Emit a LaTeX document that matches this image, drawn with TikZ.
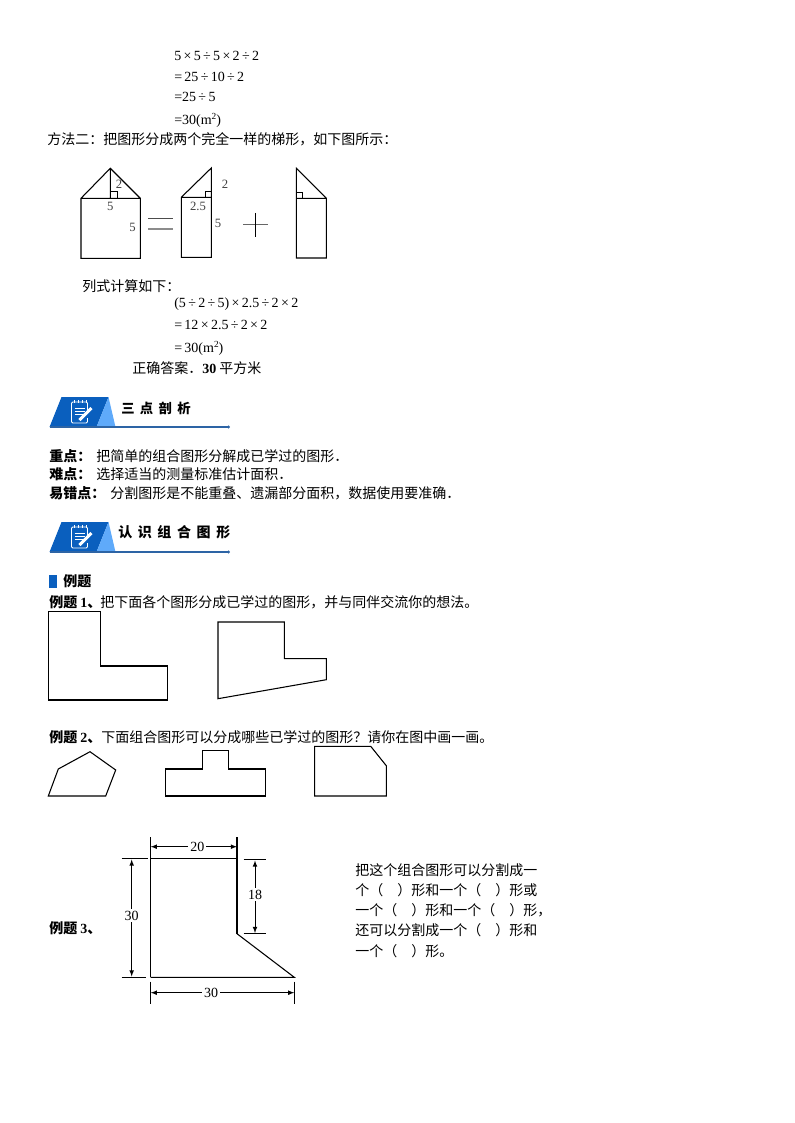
\documentclass[tikz,border=0pt]{standalone}
\usepackage{fontspec}
\setmainfont{Noto Sans CJK SC}
\newfontfamily\numfont{Liberation Serif}
\newfontfamily\bannerfont[LetterSpace=40]{Noto Sans CJK SC}
\definecolor{bannerblue}{RGB}{10,95,190}
\definecolor{bannerlight}{RGB}{95,170,250}
\definecolor{bannerline}{RGB}{45,100,165}
\tikzset{
  txt/.style={anchor=west,inner sep=0pt,font=\fontsize{10.5}{12}\selectfont},
  bold/.style={txt,font=\fontsize{10.5}{12}\selectfont\bfseries},
  num/.style={txt,font=\fontsize{10.5}{12}\selectfont\numfont},
  dimlab/.style={inner sep=1.5pt,fill=white,font=\fontsize{10.5}{12}\selectfont\numfont},
  lab/.style={inner sep=0pt,text=black!75,font=\fontsize{9.5}{12}\selectfont\numfont},
  fig/.style={line width=.8pt,line join=miter},
  dimarrow/.style={latex-latex,line width=.6pt},
  notebanner/.pic={
    \fill[bannerblue] (0,0)--(12,-30)--(59,-30)--(47,0)--cycle;
    \fill[bannerlight] (59,-30)--(66,0)--(47,0)--cycle;
    \draw[bannerline,line width=1pt] (0,0)--(179,0);
    \fill[bannerline] (179,0) circle (1.6);
    \draw[white,line width=.7pt,rounded corners=1pt] (38,-14)--(38,-25)--(22,-25)--(22,-4)--(38,-4)--(38,-9);
    \foreach \ix in {25,29,33,37} \draw[white,line width=.6pt] (\ix,-27)--(\ix,-24);
    \foreach \iy in {-19,-16,-13} \draw[white,line width=.7pt] (25,\iy)--(35,\iy);
    \draw[white,line width=2.2pt] (30,-7)--(42,-19);
  }
}
\begin{document}
\begin{tikzpicture}[x=.75pt,y=-.75pt]
\useasboundingbox (0,0) rectangle (794,1123);
% first sums
\node[num] (a1) at (174,56) {5\,×\,5\,÷\,5\,×\,2\,÷\,2};
\node[num] (a2) at (174,77) {=\,25\,÷\,10\,÷\,2};
\node[num] (a3) at (174,97) {=25\,÷\,5};
\node[num] (a4) at (174,120) {=30(m\raisebox{.8ex}{\fontsize{7}{8}\selectfont 2})};
\node[txt] (m2) at (47,139) {方法二：把图形分成两个完全一样的梯形，如下图所示：};
% house = piece + piece
\coordinate (sa) at (81,198.3);
\coordinate (sb) at (140.3,198.3);
\coordinate (sc) at (140.3,258.3);
\coordinate (sd) at (81,258.3);
\coordinate (se) at (110.3,168.3);
\coordinate (sf) at (110.3,198.3);
\draw[fig] (sa)--(sb)--(sc)--(sd)--cycle (sa)--(se)--(sb) (se)--(sf);
\draw[fig,line width=.5pt] (110.3,191.5)-|(117,198.3);
\node[lab] (l1) at (119,184) {2};
\node[lab] (l2) at (110.3,206) {5};
\node[lab] (l3) at (132.5,227) {5};
\draw[fig,line width=1pt,black!70] (148,218.3)--(172.7,218.3);
\draw[fig,line width=1pt,black!45] (148,229)--(172.7,229);
\coordinate (ma) at (181.3,197.3);
\coordinate (mb) at (211.3,197.3);
\coordinate (mc) at (211.3,257.3);
\coordinate (md) at (181.3,257.3);
\coordinate (me) at (211.3,168);
\draw[fig] (ma)--(mb)--(mc)--(md)--cycle (ma)--(me)--(mb);
\draw[fig,line width=.5pt] (205,197.3)|-(211.3,191);
\node[lab] (l4) at (225,184.5) {2};
\node[lab] (l5) at (198,206) {2.5};
\node[lab] (l6) at (218,223) {5};
\draw[fig,line width=1pt,black!60] (243,224.7)--(267.6,224.7);
\draw[fig] (255.5,213)--(255.5,237);
\coordinate (ra) at (296.3,198.3);
\coordinate (rb) at (326.3,198.3);
\coordinate (rc) at (326.3,258);
\coordinate (rd) at (296.3,258);
\coordinate (re) at (296.3,168.3);
\draw[fig] (ra)--(rb)--(rc)--(rd)--cycle (ra)--(re)--(rb);
\draw[fig,line width=.5pt] (296.3,192)-|(302.5,198.3);
% second sums
\node[txt] (b0) at (82,286) {列式计算如下：};
\node[num] (b1) at (174,304) {(5\,÷\,2\,÷\,5)\,×\,2.5\,÷\,2\,×\,2};
\node[num] (b2) at (174,325) {=\,12\,×\,2.5\,÷\,2\,×\,2};
\node[num] (b3) at (174,348) {=\,30(m\raisebox{.8ex}{\fontsize{7}{8}\selectfont 2})};
\node[txt] (b4) at (132,368) {正确答案．{\numfont\bfseries 30} 平方米};
% banners
\pic at (49.5,427) {notebanner};
\node[txt,font=\fontsize{10}{12}\selectfont\bannerfont\bfseries] (h1) at (121,408) {三点剖析};
\pic at (49.5,552) {notebanner};
\node[txt,font=\fontsize{10.5}{12}\selectfont\bannerfont\bfseries] (h2) at (118,532) {认识组合图形};
\node[bold] (k1) at (49,456) {重点：};
\node[txt] (k1t) at (96,456) {把简单的组合图形分解成已学过的图形．};
\node[bold] (k2) at (49,474) {难点：};
\node[txt] (k2t) at (96,474) {选择适当的测量标准估计面积．};
\node[bold] (k3) at (49,493) {易错点：};
\node[txt] (k3t) at (110,493) {分割图形是不能重叠、遗漏部分面积，数据使用要准确．};
% examples
\fill[bannerblue] (49.3,575) rectangle (56.5,588);
\node[bold] (e0) at (63,581) {例题};
\node[bold] (e1) at (49,602) {例题 {\numfont 1}、};
\node[txt] (e1t) at (100,602) {把下面各个图形分成已学过的图形，并与同伴交流你的想法。};
\draw[fig] (48.5,611.7)--(100.7,611.7)--(100.7,666)--(167.3,666)--(167.3,700)--(48.5,700)--cycle;
\draw[fig] (218,622)--(284.3,622)--(284.3,658.7)--(326.3,658.7)--(326.3,679.7)--(218,698.7)--cycle;
\node[bold] (e2) at (49,737) {例题 {\numfont 2}、};
\node[txt] (e2t) at (101,737) {下面组合图形可以分成哪些已学过的图形？请你在图中画一画。};
\draw[fig] (48.3,796)--(58.3,769)--(90,751.7)--(115.7,770)--(105.7,796)--cycle;
\draw[fig] (165.3,796)--(165.3,769)--(202.3,769)--(202.3,750.3)--(228.3,750.3)--(228.3,769)--(265.3,769)--(265.3,796)--cycle;
\draw[fig] (314.7,746.3)--(370.7,746.3)--(386.3,765.7)--(386.3,796)--(314.7,796)--cycle;
\node[bold] (e3) at (49,928) {例题 {\numfont 3}、};
% dimensioned figure
\coordinate (pa) at (150.7,858.7);
\coordinate (pb) at (237,858.7);
\coordinate (pc) at (237,933.7);
\coordinate (pd) at (294.3,977.3);
\coordinate (pe) at (150.7,977.3);
\draw[line width=1.1pt] (pe)--(pa)--(pb)--(pc);
\draw[line width=.8pt] (pc)--(pd)--(pe);
\draw[fig] (150.7,837.3)--(pa) (237,837.3)--(pb);
\draw[fig] (121.7,858.7)--(147.5,858.7) (121.7,977.3)--(146,977.3);
\draw[fig] (243.7,859.7)--(266,859.7) (243.7,933.7)--(266,933.7);
\draw[fig] (150.7,981.7)--(150.7,1004) (294.3,981.7)--(294.3,1004);
\draw[dimarrow] (150.7,846.7)--node[dimlab,pos=.54] (d1) {20} (237,846.7);
\draw[dimarrow] (131.7,859.5)--node[dimlab,pos=.48] (d2) {30} (131.7,976.5);
\draw[dimarrow] (255,860.5)--node[dimlab,pos=.47] (d3) {18} (255,933);
\draw[dimarrow] (150.7,992.7)--node[dimlab,pos=.42] (d4) {30} (294.3,992.7);
\node[txt] (t1) at (355,870) {把这个组合图形可以分割成一};
\node[txt] (t2) at (355,890.5) {个（\quad）形和一个（\quad）形或};
\node[txt] (t3) at (355,910) {一个（\quad）形和一个（\quad）形，};
\node[txt] (t4) at (355,930.5) {还可以分割成一个（\quad）形和};
\node[txt] (t5) at (355,951) {一个（\quad）形。};
\end{tikzpicture}
\end{document}
